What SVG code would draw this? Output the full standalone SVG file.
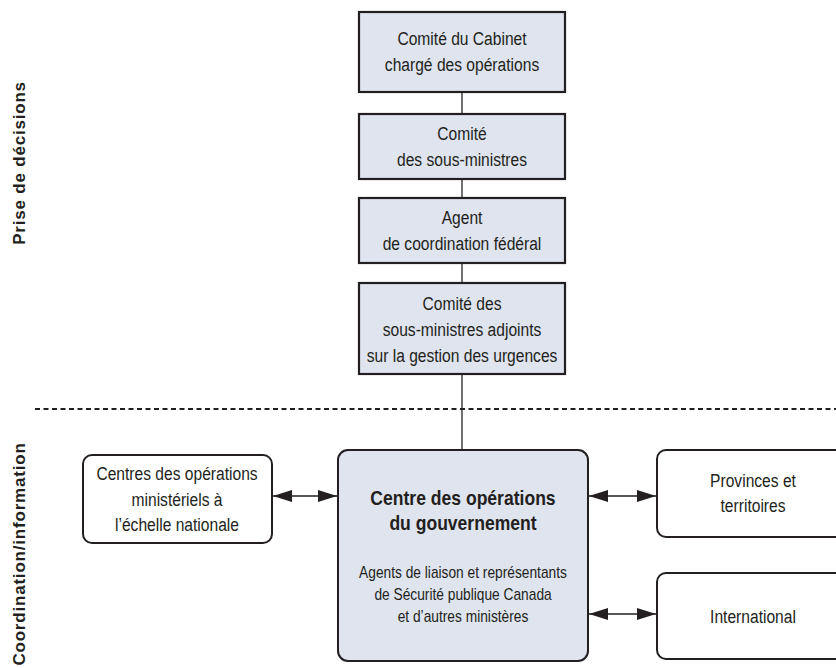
<svg xmlns="http://www.w3.org/2000/svg" width="836" height="668" viewBox="0 0 836 668">
<defs>
<marker id="ah" viewBox="0 0 19 12" refX="19" refY="6" markerWidth="19" markerHeight="12" markerUnits="userSpaceOnUse" orient="auto-start-reverse">
<path d="M0,0 L19,6 L0,12 z" fill="#231f20"/>
</marker>
<style>
text{font-family:"Liberation Sans",Arial,sans-serif;fill:#231f20;text-anchor:middle}
.t,.s,.b{transform-box:fill-box;transform-origin:center}
.t{font-size:18.8px;transform:scaleX(0.83)}
.s{font-size:16px;transform:scaleX(0.86)}
.b{font-size:19.5px;font-weight:bold;transform:scaleX(0.9)}
.side{font-size:17px;font-weight:bold;letter-spacing:0.8px}
.sq{fill:#dfe4ef;stroke:#231f20;stroke-width:2.2}
.rd{fill:#ffffff;stroke:#231f20;stroke-width:2}
.rdb{fill:#dfe4ef;stroke:#231f20;stroke-width:2}
.link{stroke:#4d4d4f;stroke-width:1.6;fill:none}
.arr{stroke:#231f20;stroke-width:1.5;fill:none;marker-start:url(#ah);marker-end:url(#ah)}
</style>
</defs>
<rect width="836" height="668" fill="#ffffff"/>
<g id="connectors">
<line class="link" x1="462" y1="92" x2="462" y2="450"/>
<line x1="35" y1="409" x2="836" y2="409" stroke="#231f20" stroke-width="2" stroke-dasharray="5,3.5"/>
<line class="arr" x1="273" y1="496" x2="337" y2="496"/>
<line class="arr" x1="589" y1="496" x2="656" y2="496"/>
<line class="arr" x1="589" y1="614" x2="656" y2="614"/>
</g>
<g id="label-prise">
<text class="side" transform="translate(25,163) rotate(-90)">Prise de décisions</text>
</g>
<g id="label-coord">
<text class="side" transform="translate(25,554) rotate(-90)">Coordination/information</text>
</g>
<g id="cabinet">
<rect class="sq" x="359" y="12" width="206" height="80"/>
<text class="t" x="462" y="45">Comité du Cabinet</text>
<text class="t" x="462" y="71">chargé des opérations</text>
</g>
<g id="sous-ministres">
<rect class="sq" x="359" y="114" width="206" height="65"/>
<text class="t" x="462" y="140">Comité</text>
<text class="t" x="462" y="166">des sous-ministres</text>
</g>
<g id="agent">
<rect class="sq" x="359" y="198" width="206" height="65"/>
<text class="t" x="462" y="224">Agent</text>
<text class="t" x="462" y="250">de coordination fédéral</text>
</g>
<g id="adjoints">
<rect class="sq" x="359" y="283" width="206" height="91"/>
<text class="t" x="462" y="310">Comité des</text>
<text class="t" x="462" y="336">sous-ministres adjoints</text>
<text class="t" x="462" y="362">sur la gestion des urgences</text>
</g>
<g id="cog">
<rect class="rdb" x="338" y="450" width="250" height="211" rx="10"/>
<text class="b" x="463" y="505">Centre des opérations</text>
<text class="b" x="463" y="530">du gouvernement</text>
<text class="s" x="463" y="578">Agents de liaison et représentants</text>
<text class="s" x="463" y="600">de Sécurité publique Canada</text>
<text class="s" x="463" y="622">et d’autres ministères</text>
</g>
<g id="centres-ministeriels">
<rect class="rd" x="83" y="455" width="189" height="88" rx="9"/>
<text class="t" x="177" y="480">Centres des opérations</text>
<text class="t" x="177" y="506">ministériels à</text>
<text class="t" x="177" y="531">l’échelle nationale</text>
</g>
<g id="provinces">
<rect class="rd" x="657" y="450" width="192" height="87" rx="9"/>
<text class="t" x="753" y="487">Provinces et</text>
<text class="t" x="753" y="512">territoires</text>
</g>
<g id="international">
<rect class="rd" x="657" y="573" width="192" height="86" rx="9"/>
<text class="t" x="753" y="623">International</text>
</g>
</svg>
